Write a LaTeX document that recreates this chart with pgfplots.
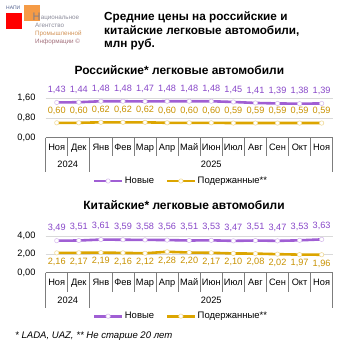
\documentclass[border=0pt]{standalone}
\usepackage{fontspec}
\setmainfont{Liberation Sans}
\usepackage{pgfplots}
\pgfplotsset{compat=1.18}
\definecolor{pnew}{RGB}{160,95,212}
\definecolor{pnewl}{RGB}{135,70,200}
\definecolor{pused}{RGB}{220,165,0}
\definecolor{pusedl}{RGB}{200,145,0}
\definecolor{gridc}{RGB}{217,217,217}
\definecolor{boxc}{RGB}{125,125,125}
\definecolor{logob}{RGB}{80,95,140}
\definecolor{logog}{RGB}{140,140,155}
\definecolor{logoo}{RGB}{245,155,70}

\pgfplotstableread{
x new used
0 1.43 0.60
1 1.44 0.60
2 1.48 0.62
3 1.48 0.62
4 1.47 0.62
5 1.48 0.60
6 1.48 0.60
7 1.48 0.60
8 1.45 0.59
9 1.41 0.59
10 1.39 0.59
11 1.38 0.59
12 1.39 0.59
}\rus
\pgfplotstableread{
x new used
0 3.49 2.16
1 3.51 2.17
2 3.61 2.19
3 3.59 2.16
4 3.58 2.12
5 3.56 2.28
6 3.51 2.20
7 3.53 2.17
8 3.47 2.10
9 3.51 2.08
10 3.47 2.02
11 3.53 1.97
12 3.63 1.96
}\chn

\pgfplotsset{
 base/.style={
  scale only axis, width=287bp, xmin=-0.5, xmax=12.5, ymin=0, clip=false,
  axis line style={draw=none}, major tick length=0pt,
  ymajorgrids, grid style={draw=gridc, line width=0.8bp},
  xtick={0,...,12},
  xticklabels={Ноя,Дек,Янв,Фев,Мар,Апр,Май,Июн,Июл,Авг,Сен,Окт,Ноя},
  xticklabel style={font=\fontsize{9.3}{9.3}\selectfont, anchor=base, inner sep=0pt, yshift=-12.6bp},
  yticklabel style={font=\fontsize{9.3}{9.3}\selectfont, anchor=east, inner sep=0pt, xshift=-10bp},
  /pgf/number format/fixed, /pgf/number format/fixed zerofill,
  /pgf/number format/precision=2, /pgf/number format/use comma,
  /pgf/number format/assume math mode=true,
  legend columns=2,
  legend style={at={(0.5,0)}, anchor=center, xshift=-8.5bp, yshift=-43.5bp,
    draw=none, fill=none, font=\fontsize{9.5}{9.5}\selectfont, inner sep=0pt,
    nodes={inner xsep=1.5bp, inner ysep=0pt},
    /tikz/every even column/.append style={column sep=10bp}},
  legend cell align=left,
  legend image code/.code={\draw[mark repeat=2,mark phase=2,##1] plot coordinates {(0bp,0bp) (14bp,0bp) (28bp,0bp)};},
 },
 newline/.style={pnew, line width=2.6bp, line join=round, mark=*, mark size=2.2bp,
   mark options={fill=white, draw=pnew!40, line width=0.6bp},
   nodes near coords,
   every node near coord/.append style={font=\fontsize{9.2}{9.2}\selectfont, text=pnewl, anchor=base, inner sep=0pt, yshift=#1}},
 usedline/.style={pused, line width=2.6bp, line join=round, mark=*, mark size=2.2bp,
   mark options={fill=white, draw=pused!40, line width=0.6bp},
   nodes near coords,
   every node near coord/.append style={font=\fontsize{9.2}{9.2}\selectfont, text=pusedl, anchor=base, inner sep=0pt, yshift=#1}},
}

\begin{document}
\begin{tikzpicture}
\path[use as bounding box] (0,0) rectangle (353bp,-353bp);

% logo
\fill[red] (6bp,-12.7bp) rectangle (22bp,-28.7bp);
\fill[logoo] (24bp,-4.7bp) rectangle (40bp,-20.7bp);
\node[anchor=base west, inner sep=0pt, font=\fontsize{5}{5}\selectfont, text=logob] at (6bp,-9.5bp) {НАПИ};
\node[anchor=base west, inner sep=0pt, font=\fontsize{11}{11}\selectfont, text=logog!90!black] at (32.5bp,-20.5bp) {Н};
\node[anchor=base west, inner sep=0pt, font=\fontsize{6.3}{6.3}\selectfont, text=logog] at (40.6bp,-19bp) {ациональное};
\node[anchor=base west, inner sep=0pt, font=\fontsize{6.3}{6.3}\selectfont, text=logog] at (35bp,-27bp) {Агентство};
\node[anchor=base west, inner sep=0pt, font=\fontsize{6.3}{6.3}\selectfont, text=logoo!70!gray] at (35bp,-35bp) {Промышленной};
\node[anchor=base west, inner sep=0pt, font=\fontsize{6.3}{6.3}\selectfont, text=logog!80!red] at (35bp,-43bp) {Информации ©};

% title
\node[anchor=base west, inner sep=0pt, font=\bfseries\fontsize{11.8}{11.8}\selectfont] at (104bp,-20.7bp) {Средние цены на российские и};
\node[anchor=base west, inner sep=0pt, font=\bfseries\fontsize{11.8}{11.8}\selectfont] at (104bp,-34bp) {китайские легковые автомобили,};
\node[anchor=base west, inner sep=0pt, font=\bfseries\fontsize{11.8}{11.8}\selectfont] at (104bp,-47.3bp) {млн руб.};

% subtitles
\node[anchor=base, inner sep=0pt, font=\bfseries\fontsize{12}{12}\selectfont] at (179.4bp,-74bp) {Российские* легковые автомобили};
\node[anchor=base, inner sep=0pt, font=\bfseries\fontsize{12}{12}\selectfont] at (184bp,-209.5bp) {Китайские* легковые автомобили};

% top chart
\begin{axis}[base, at={(45.7bp,-137.5bp)}, anchor=south west, height=39.2bp,
  ymax=1.6, ytick={0,0.8,1.6}]
\addplot[newline=9.8bp] table[x=x,y=new] {\rus};
\addlegendentry{Новые}
\addplot[usedline=9.6bp] table[x=x,y=used] {\rus};
\addlegendentry{Подержанные**}
\end{axis}

% bottom chart
\begin{axis}[base, at={(45.7bp,-272.7bp)}, anchor=south west, height=36.7bp,
  ymax=4, ytick={0,2,4}]
\addplot[newline=10.6bp] table[x=x,y=new] {\chn};
\addlegendentry{Новые}
\addplot[usedline=-11.3bp] table[x=x,y=used] {\chn};
\addlegendentry{Подержанные**}
\end{axis}

% category boxes
\draw[boxc, line width=0.8bp] (45.7bp,-137.5bp) -- (332.7bp,-137.5bp);
\foreach \k in {0,...,13} \draw[boxc, line width=0.8bp] (45.7bp+\k*22.077bp,-137.5bp) -- ++(0,-18.5bp);
\foreach \k in {0,2,13} \draw[boxc, line width=0.8bp] (45.7bp+\k*22.077bp,-156bp) -- ++(0,-16bp);
\node[anchor=base, inner sep=0pt, font=\fontsize{9.3}{9.3}\selectfont] at (67.8bp,-167.3bp) {2024};
\node[anchor=base, inner sep=0pt, font=\fontsize{9.3}{9.3}\selectfont] at (211.3bp,-167.3bp) {2025};

\draw[boxc, line width=0.8bp] (45.7bp,-272.7bp) -- (332.7bp,-272.7bp);
\foreach \k in {0,...,13} \draw[boxc, line width=0.8bp] (45.7bp+\k*22.077bp,-272.7bp) -- ++(0,-19bp);
\foreach \k in {0,2,13} \draw[boxc, line width=0.8bp] (45.7bp+\k*22.077bp,-291.7bp) -- ++(0,-16.3bp);
\node[anchor=base, inner sep=0pt, font=\fontsize{9.3}{9.3}\selectfont] at (67.8bp,-303.2bp) {2024};
\node[anchor=base, inner sep=0pt, font=\fontsize{9.3}{9.3}\selectfont] at (211.3bp,-303.2bp) {2025};

% footnote
\node[anchor=base west, inner sep=0pt, font=\itshape\fontsize{9.6}{9.6}\selectfont] at (15bp,-338bp) {* LADA, UAZ, ** Не старше 20 лет};
\end{tikzpicture}
\end{document}
